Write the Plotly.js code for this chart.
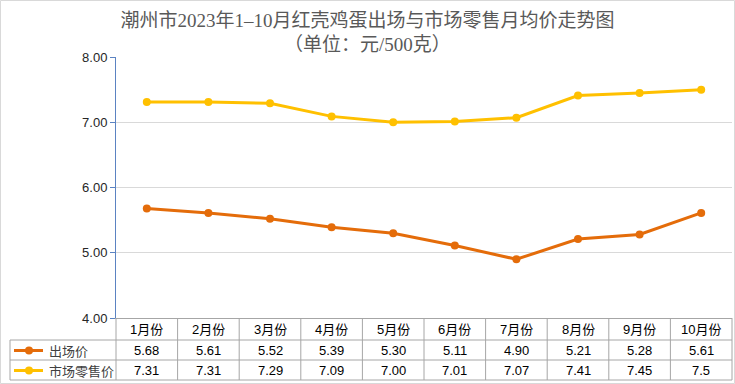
<!DOCTYPE html>
<html>
<head>
<meta charset="utf-8">
<script src="https://cdn.plot.ly/plotly-3.0.1.min.js"></script>
<style>html,body{margin:0;padding:0;background:#fff;}#chart{width:735px;height:384px;}</style>
</head>
<body>
<div id="chart"></div>
<script>
const months = ["1月份","2月份","3月份","4月份","5月份","6月份","7月份","8月份","9月份","10月份"];
const factoryPrice = [5.68, 5.61, 5.52, 5.39, 5.30, 5.11, 4.90, 5.21, 5.28, 5.61];
const retailPrice = [7.31, 7.31, 7.29, 7.09, 7.00, 7.01, 7.07, 7.41, 7.45, 7.5];
const factoryLabels = ["5.68","5.61","5.52","5.39","5.30","5.11","4.90","5.21","5.28","5.61"];
const retailLabels = ["7.31","7.31","7.29","7.09","7.00","7.01","7.07","7.41","7.45","7.5"];
const seriesNames = ["出场价", "市场零售价"];
const seriesColors = ["#E46C0A", "#FFC000"];
const titleText = "潮州市2023年1–10月红壳鸡蛋出场与市场零售月均价走势图";
const subtitleText = "（单位：元/500克）";

// layout geometry (pixels)
const W = 735, H = 384;
const L = 116, R = 732, T = 57, B = 318;
const plotW = R - L, plotH = B - T;
const pxX = px => (px - L) / plotW;     // paper x
const pxY = py => (B - py) / plotH;     // paper y

const traces = [
  {x: months, y: factoryPrice, name: seriesNames[0], type: 'scatter', mode: 'lines+markers',
   line: {color: seriesColors[0], width: 3}, marker: {color: seriesColors[0], size: 8}},
  {x: months, y: retailPrice, name: seriesNames[1], type: 'scatter', mode: 'lines+markers',
   line: {color: seriesColors[1], width: 3}, marker: {color: seriesColors[1], size: 8}}
];

const gridColor = '#a6a6a6';
const shapes = [];
const annotations = [];
const tableLeftPx = 10;
// horizontal table lines
[340, 360, 380].forEach(py => shapes.push({type: 'line', xref: 'paper', yref: 'paper',
  x0: pxX(tableLeftPx), x1: 1, y0: pxY(py), y1: pxY(py),
  line: {color: gridColor, width: 1}}));
// vertical lines
shapes.push({type: 'line', xref: 'paper', yref: 'paper', x0: pxX(tableLeftPx), x1: pxX(tableLeftPx),
  y0: pxY(340), y1: pxY(380), line: {color: gridColor, width: 1}});
for (let k = 0; k <= months.length; k++) {
  shapes.push({type: 'line', xref: 'paper', yref: 'paper', x0: k / months.length, x1: k / months.length,
    y0: pxY(318), y1: pxY(380), line: {color: gridColor, width: 1}});
}
// outer chart border
shapes.push({type: 'rect', xref: 'paper', yref: 'paper',
  x0: pxX(0.5), x1: pxX(734.5), y0: pxY(383.5), y1: pxY(0.5),
  line: {color: '#d9d9d9', width: 1}, fillcolor: 'rgba(0,0,0,0)', layer: 'below'});

const tableFont = {family: 'Liberation Sans, Noto Sans CJK SC, sans-serif', size: 13, color: '#000000'};
months.forEach((m, i) => {
  annotations.push({x: m, y: pxY(329.5), xref: 'x', yref: 'paper', text: m, showarrow: false, font: tableFont, xanchor: 'center', yanchor: 'middle'});
  annotations.push({x: m, y: pxY(350.5), xref: 'x', yref: 'paper', text: factoryLabels[i], showarrow: false, font: tableFont, xanchor: 'center', yanchor: 'middle'});
  annotations.push({x: m, y: pxY(370.5), xref: 'x', yref: 'paper', text: retailLabels[i], showarrow: false, font: tableFont, xanchor: 'center', yanchor: 'middle'});
});
// legend keys in the table
[[350.5, 0], [370.5, 1]].forEach(([py, s]) => {
  shapes.push({type: 'line', xref: 'paper', yref: 'paper', x0: pxX(14), x1: pxX(43), y0: pxY(py), y1: pxY(py),
    line: {color: seriesColors[s], width: 3}});
  shapes.push({type: 'circle', xref: 'paper', yref: 'paper', x0: pxX(25), x1: pxX(33), y0: pxY(py + 4), y1: pxY(py - 4),
    line: {color: seriesColors[s], width: 0}, fillcolor: seriesColors[s]});
  annotations.push({x: pxX(47), y: pxY(py), xref: 'paper', yref: 'paper', text: seriesNames[s], showarrow: false,
    font: {family: 'Noto Sans CJK SC, sans-serif', size: 13, color: '#404040'}, xanchor: 'left', yanchor: 'middle'});
});
// subtitle
annotations.push({x: (367 - L) / plotW, y: pxY(44), xref: 'paper', yref: 'paper', text: subtitleText, showarrow: false,
  font: {family: 'Liberation Serif, Noto Sans CJK SC, serif', size: 19, color: '#595959'}, xanchor: 'center', yanchor: 'middle'});

const layout = {
  width: W, height: H,
  margin: {l: L, r: W - R, t: T, b: H - B, pad: 0},
  paper_bgcolor: '#ffffff', plot_bgcolor: '#ffffff',
  showlegend: false,
  title: {text: titleText,
    font: {family: 'Liberation Serif, Noto Sans CJK SC, serif', size: 19, color: '#595959'},
    x: 0.5, xref: 'container', xanchor: 'center', y: 1 - 20 / H, yref: 'container', yanchor: 'middle'},
  xaxis: {type: 'category', range: [-0.5, months.length - 0.5], showticklabels: false, showgrid: false,
    showline: true, linecolor: gridColor, linewidth: 1, ticks: '', zeroline: false, fixedrange: true},
  yaxis: {range: [4, 8], dtick: 1, tick0: 4, tickformat: '.2f', showgrid: true, gridcolor: '#d9d9d9', gridwidth: 1,
    showline: true, linecolor: '#5b83c2', linewidth: 1, ticks: 'outside', ticklen: 5, tickcolor: '#5b83c2',
    tickfont: {family: 'Liberation Sans, Arial, sans-serif', size: 13, color: '#262626'}, zeroline: false, fixedrange: true},
  shapes: shapes,
  annotations: annotations
};

Plotly.newPlot('chart', traces, layout, {displayModeBar: false, staticPlot: true});
</script>
</body>
</html>
